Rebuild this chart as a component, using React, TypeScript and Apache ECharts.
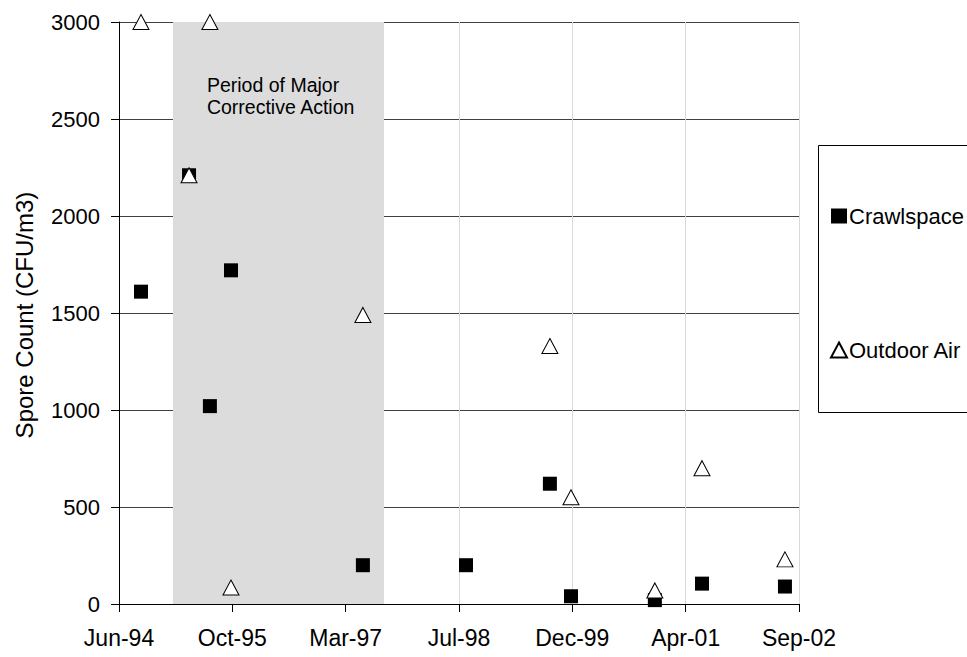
import React, { useEffect, useRef } from "react";
import * as echarts from "echarts";

// Sampling dates and spore counts (CFU/m3)
const crawlDates = [
  "1994-09-20", "1995-04-20", "1995-07-21", "1995-10-22", "1997-05-26",
  "1998-08-24", "1999-08-29", "1999-11-30", "2000-12-04", "2001-06-30", "2002-07-01",
];
const crawlValues = [1610, 2210, 1020, 1720, 200, 200, 620, 40, 20, 105, 90];

const outdoorDates = [
  "1994-09-20", "1995-04-20", "1995-07-21", "1995-10-22", "1997-05-26",
  "1999-08-29", "1999-11-30", "2000-12-04", "2001-06-30", "2002-07-01",
];
const outdoorValues = [3000, 2210, 3000, 85, 1490, 1330, 550, 70, 700, 230];

const correctivePeriod = ["1995-02-08", "1997-08-27"];
const correctiveLabel = "Period of Major\nCorrective Action";
const yTitle = "Spore Count (CFU/m3)";

const xMinDate = "1994-06-15";
const xMaxDate = "2002-09-01";
const xStepDays = 500;

const MONTHS = ["Jan", "Feb", "Mar", "Apr", "May", "Jun", "Jul", "Aug", "Sep", "Oct", "Nov", "Dec"];

// Excel-style day serial
const toSerial = (iso: string) => {
  const [y, m, d] = iso.split("-").map(Number);
  return Date.UTC(y, m - 1, d) / 86400000 + 25569;
};
const fmtSerial = (s: number) => {
  const dt = new Date((Math.round(s) - 25569) * 86400000);
  return MONTHS[dt.getUTCMonth()] + "-" + String(dt.getUTCFullYear() % 100).padStart(2, "0");
};

const FONT = "Liberation Sans, Arial, sans-serif";

export default function App() {
  const ref = useRef<HTMLDivElement>(null);
  useEffect(() => {
    if (!ref.current) return;
    const chart = echarts.init(ref.current, null, { renderer: "svg" });
    const crawl = crawlDates.map((d, i) => [toSerial(d), crawlValues[i]]);
    const outdoor = outdoorDates.map((d, i) => [toSerial(d), outdoorValues[i]]);
    chart.setOption({
      animation: false,
      backgroundColor: "#ffffff",
      textStyle: { fontFamily: FONT, color: "#000" },
      grid: { left: 119, right: 168, top: 22, bottom: 53, containLabel: false },
      xAxis: {
        type: "value",
        min: toSerial(xMinDate),
        max: toSerial(xMaxDate),
        interval: xStepDays,
        axisLine: { show: true, lineStyle: { color: "#000", width: 1 } },
        axisTick: { show: true, length: 8, lineStyle: { color: "#000" } },
        axisLabel: {
          formatter: (v: number) => fmtSerial(v),
          fontSize: 23,
          color: "#000",
          margin: 22,
          fontFamily: FONT,
        },
        splitLine: { show: true, lineStyle: { color: "#d9d9d9", width: 1 } },
      },
      yAxis: {
        type: "value",
        min: 0,
        max: 3000,
        interval: 500,
        axisLine: { show: true, lineStyle: { color: "#000", width: 1 } },
        axisTick: { show: true, length: 8, lineStyle: { color: "#000" } },
        axisLabel: {
          fontSize: 22,
          color: "#000",
          margin: 19,
          fontFamily: FONT,
          formatter: (v: number) => String(v),
        },
        splitLine: { show: true, lineStyle: { color: "#404040", width: 1 } },
      },
      legend: {
        orient: "vertical",
        left: 825,
        top: 200,
        itemGap: 112,
        itemWidth: 16,
        itemHeight: 15,
        textStyle: { fontSize: 22, color: "#000", fontFamily: FONT, padding: [0, 0, 0, -3] },
        data: [
          { name: "Crawlspace", icon: "rect" },
          { name: "Outdoor Air", icon: "triangle" },
        ],
      },
      graphic: [
        {
          type: "rect",
          shape: { x: 818.5, y: 145.5, width: 200, height: 267 },
          style: { fill: "none", stroke: "#000", lineWidth: 1 },
          z: 1,
        },
        {
          type: "text",
          x: 24,
          y: 315,
          rotation: Math.PI / 2,
          style: {
            text: yTitle,
            fontSize: 24,
            fontFamily: FONT,
            fill: "#000",
            textAlign: "center",
            textVerticalAlign: "middle",
          },
        },
      ],
      series: [
        {
          name: "Crawlspace",
          type: "scatter",
          symbol: "rect",
          symbolSize: 14,
          itemStyle: { color: "#000", borderColor: "#000", borderWidth: 0, opacity: 1 },
          data: crawl,
          z: 3,
          markArea: {
            silent: true,
            itemStyle: { color: "#dcdcdc", opacity: 1 },
            label: {
              show: true,
              position: [34, 52],
              fontSize: 19.5,
              lineHeight: 22,
              color: "#000",
              fontFamily: FONT,
            },
            data: [
              [
                { xAxis: toSerial(correctivePeriod[0]), yAxis: 0, name: correctiveLabel },
                { xAxis: toSerial(correctivePeriod[1]), yAxis: 3000 },
              ],
            ],
          },
        },
        {
          name: "Outdoor Air",
          type: "scatter",
          symbol: "triangle",
          symbolSize: [16, 15],
          itemStyle: { color: "#fff", borderColor: "#000", borderWidth: 1, opacity: 1 },
          data: outdoor,
          z: 4,
          clip: false,
        },
      ],
    });
    return () => chart.dispose();
  }, []);
  return <div ref={ref} style={{ width: 967, height: 657, position: "absolute", left: 0, top: 0 }} />;
}
